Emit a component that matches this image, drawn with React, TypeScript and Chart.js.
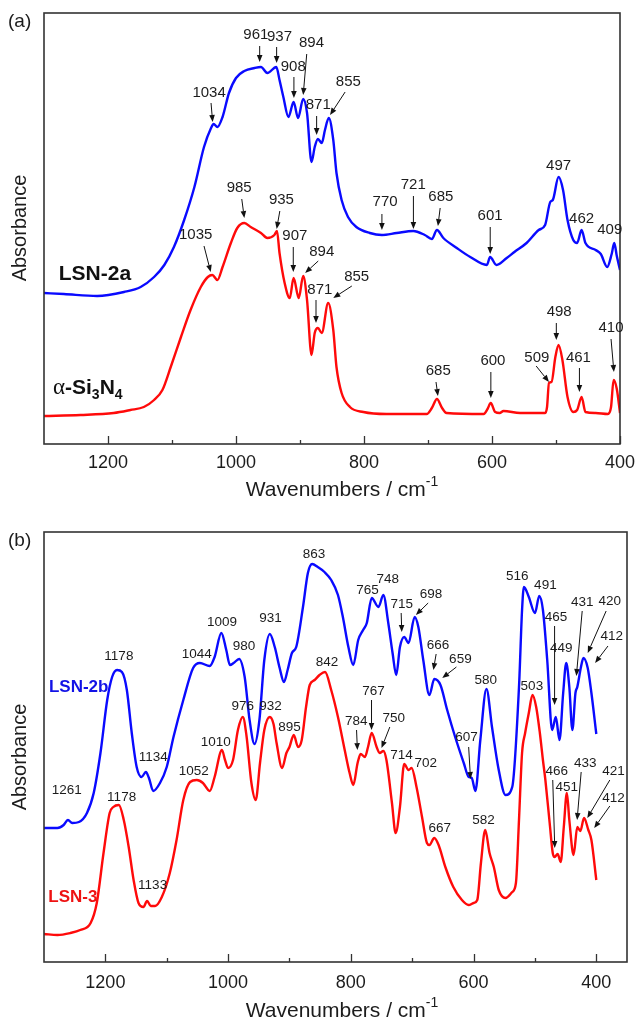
import React, { useEffect, useRef } from 'react';
import { Chart, registerables } from 'chart.js';

Chart.register(...registerables);

// ---------- Panel (a) data: wavenumber (cm-1) and absorbance (a.u.) ----------
const lsn2aWn = [1300, 1269, 1217, 1175, 1149, 1128, 1112, 1097, 1081, 1065, 1050, 1039, 1035, 1029, 1021, 1011, 1000, 987, 971, 961, 951, 937, 932, 926, 918, 910, 903, 895, 889, 882, 877, 872, 866, 861, 855, 848, 843, 835, 825, 812, 791, 772, 749, 723, 705, 694, 686, 676, 655, 634, 608, 603, 593, 577, 565, 546, 527, 517, 509, 505, 496, 489, 482, 473, 467, 460, 454, 438, 430, 420, 413, 409, 405, 400];
const lsn2aAbs = [151, 150, 148, 152, 157, 167, 179, 197, 224, 257, 297, 316, 320, 317, 327, 351, 366, 373, 376, 377, 371, 377, 364, 347, 327, 342, 326, 345, 331, 282, 297, 305, 301, 314, 326, 304, 271, 244, 227, 217, 211, 209, 211, 213, 209, 205, 214, 206, 196, 187, 179, 187, 179, 186, 192, 201, 214, 219, 242, 244, 267, 254, 224, 204, 201, 214, 201, 194, 190, 177, 190, 201, 188, 174];

const si3n4Wn = [1300, 1243, 1191, 1165, 1144, 1128, 1115, 1102, 1086, 1071, 1055, 1044, 1037, 1029, 1021, 1008, 998, 987, 977, 961, 951, 940, 936, 932, 924, 916, 910, 902, 895, 889, 882, 877, 872, 866, 856, 848, 843, 835, 822, 801, 765, 702, 694, 686, 678, 671, 613, 607, 602, 595, 588, 582, 556, 517, 514, 511, 507, 501, 496, 490, 482, 473, 467, 460, 454, 438, 419, 414, 410, 405, 400];
const si3n4Abs = [28, 29, 31, 34, 37, 44, 54, 77, 107, 134, 157, 167, 169, 164, 177, 201, 216, 221, 217, 211, 206, 209, 213, 191, 161, 146, 166, 146, 168, 144, 89, 111, 116, 111, 141, 114, 77, 51, 37, 32, 30, 30, 36, 45, 36, 31, 30, 35, 41, 32, 31, 33, 31, 31, 37, 61, 62, 87, 99, 84, 47, 32, 34, 47, 32, 31, 30, 37, 64, 55, 31];

// ---------- Panel (b) data ----------
const lsn2bWn = [1300, 1278, 1268, 1261, 1254, 1243, 1230, 1219, 1208, 1197, 1189, 1181, 1173, 1165, 1157, 1149, 1141, 1134, 1129, 1122, 1111, 1100, 1089, 1073, 1057, 1046, 1030, 1022, 1011, 1003, 997, 991, 982, 973, 965, 957, 949, 941, 932, 924, 916, 909, 903, 896, 889, 878, 870, 863, 854, 843, 832, 821, 813, 804, 796, 788, 780, 774, 766, 755, 747, 739, 732, 726, 720, 713, 706, 696, 690, 682, 672, 664, 654, 643, 630, 616, 608, 603, 597, 589, 579, 570, 559, 548, 537, 526, 521, 518, 510, 500, 493, 487, 480, 472, 466, 460, 454, 449, 444, 439, 434, 431, 425, 421, 414, 408, 400];
const lsn2bAbs = [134, 134, 137, 142, 139, 140, 149, 169, 209, 262, 285, 292, 290, 272, 229, 195, 185, 190, 184, 171, 179, 195, 225, 262, 294, 299, 296, 305, 329, 312, 297, 299, 303, 285, 242, 218, 242, 302, 328, 315, 294, 280, 292, 309, 315, 355, 389, 398, 395, 390, 382, 367, 345, 315, 297, 322, 332, 339, 364, 355, 367, 339, 309, 287, 315, 325, 319, 345, 335, 302, 267, 283, 277, 252, 225, 199, 185, 184, 171, 222, 273, 235, 192, 167, 175, 275, 352, 375, 365, 349, 366, 352, 302, 232, 245, 222, 269, 299, 275, 232, 269, 275, 295, 304, 294, 269, 228];

const lsn3Wn = [1300, 1278, 1257, 1241, 1224, 1214, 1203, 1193, 1187, 1178, 1170, 1162, 1154, 1146, 1138, 1132, 1126, 1119, 1108, 1095, 1084, 1073, 1062, 1051, 1041, 1030, 1022, 1010, 1005, 1000, 992, 984, 976, 970, 962, 955, 948, 941, 932, 926, 921, 912, 905, 900, 893, 886, 880, 873, 867, 859, 851, 842, 832, 821, 810, 802, 796, 789, 784, 777, 772, 766, 758, 753, 747, 742, 733, 727, 720, 713, 706, 701, 693, 684, 676, 672, 664, 657, 646, 633, 619, 608, 600, 594, 588, 581, 574, 567, 559, 548, 537, 531, 526, 521, 516, 510, 504, 498, 492, 487, 483, 476, 471, 468, 463, 458, 453, 448, 444, 437, 431, 426, 420, 413, 408, 400];
const lsn3Abs = [28, 27, 29, 32, 39, 59, 109, 149, 155, 157, 142, 115, 82, 59, 55, 61, 56, 56, 65, 89, 122, 162, 180, 182, 179, 171, 185, 212, 202, 194, 202, 232, 245, 226, 179, 162, 199, 232, 245, 238, 219, 194, 209, 215, 227, 215, 222, 255, 277, 282, 287, 290, 272, 245, 212, 189, 177, 199, 208, 205, 215, 229, 215, 209, 211, 202, 159, 129, 155, 198, 192, 194, 175, 145, 119, 117, 124, 117, 95, 75, 62, 57, 59, 62, 99, 132, 109, 95, 72, 64, 70, 79, 142, 209, 229, 249, 267, 255, 229, 202, 182, 139, 109, 105, 108, 100, 135, 169, 142, 107, 135, 131, 144, 132, 122, 82];

// ---------- Axis ticks ----------
const majorTicks = [1200, 1000, 800, 600, 400];
const minorTicks = [1100, 900, 700, 500];

// ---------- Peak labels: text at (x, y) in data units, optional arrow [x1, y1, x2, y2] ----------
const peaksA = [
  { t: '1034', x: 1042, y: 351, a: [1039, 341, 1036.5, 322] },
  { t: '961', x: 969, y: 409, a: [963, 398, 963, 382] },
  { t: '937', x: 932, y: 407, a: [936.5, 397, 936.5, 381] },
  { t: '908', x: 910.5, y: 377, a: [909.5, 367, 909.5, 346] },
  { t: '894', x: 882, y: 401, a: [889.5, 390, 895, 349] },
  { t: '871', x: 871.5, y: 339, a: [874, 328, 874, 309] },
  { t: '855', x: 824.5, y: 362, a: [829.5, 352, 853, 329] },
  { t: '770', x: 767, y: 242, a: [772, 230, 772, 214] },
  { t: '721', x: 723, y: 259, a: [722.8, 248, 722.8, 215] },
  { t: '685', x: 680, y: 247, a: [681, 236, 684.5, 218] },
  { t: '601', x: 603, y: 228, a: [602.8, 217, 602.8, 190] },
  { t: '497', x: 496, y: 278 },
  { t: '462', x: 460, y: 225 },
  { t: '409', x: 416, y: 214 },
  { t: '1035', x: 1063, y: 209, a: [1050, 198, 1039.5, 172] },
  { t: '985', x: 995, y: 256, a: [991, 245, 987, 226] },
  { t: '935', x: 929, y: 244, a: [931.5, 233, 936.5, 215] },
  { t: '907', x: 908, y: 208, a: [910.5, 197, 910.5, 172] },
  { t: '894', x: 866, y: 192, a: [871.5, 183, 892, 171] },
  { t: '871', x: 869, y: 154, a: [875, 144, 875, 121] },
  { t: '855', x: 811.5, y: 167, a: [819, 158, 848, 146] },
  { t: '685', x: 684, y: 73, a: [687.5, 62, 684.5, 48] },
  { t: '600', x: 598.6, y: 83, a: [601.8, 72, 601.8, 46] },
  { t: '509', x: 530, y: 86, a: [531, 78, 511, 62] },
  { t: '498', x: 495, y: 132, a: [499.5, 121, 499.5, 104] },
  { t: '461', x: 465, y: 86, a: [463.4, 76, 463.4, 52] },
  { t: '410', x: 414, y: 116, a: [414, 105, 409.5, 72] },
];

const peaksB = [
  { t: '1178', x: 1178, y: 306 },
  { t: '1261', x: 1263, y: 172 },
  { t: '1134', x: 1122, y: 205 },
  { t: '1044', x: 1051, y: 308 },
  { t: '1009', x: 1010, y: 340 },
  { t: '980', x: 974, y: 316 },
  { t: '931', x: 931, y: 344 },
  { t: '863', x: 860, y: 408 },
  { t: '765', x: 773, y: 372 },
  { t: '748', x: 740, y: 383 },
  { t: '715', x: 717, y: 358, a: [718, 349, 717, 330] },
  { t: '698', x: 669.5, y: 368, a: [674, 359, 694, 347] },
  { t: '666', x: 658, y: 317, a: [661, 308, 665.5, 292] },
  { t: '659', x: 621.5, y: 303, a: [628, 295, 651, 284] },
  { t: '607', x: 611.5, y: 225, a: [608, 215, 605, 183] },
  { t: '580', x: 580, y: 282 },
  { t: '516', x: 529, y: 386 },
  { t: '491', x: 483, y: 377 },
  { t: '465', x: 465.5, y: 345, a: [468, 336, 468, 257] },
  { t: '449', x: 457, y: 314 },
  { t: '431', x: 423, y: 360, a: [423, 351, 432.5, 286] },
  { t: '420', x: 378, y: 361, a: [384, 351, 414, 309] },
  { t: '412', x: 375, y: 326, a: [381, 316, 402, 299] },
  { t: '1178', x: 1173.5, y: 165 },
  { t: '1133', x: 1123, y: 77 },
  { t: '1052', x: 1056, y: 191 },
  { t: '1010', x: 1020, y: 220 },
  { t: '976', x: 976, y: 256 },
  { t: '932', x: 931, y: 256 },
  { t: '895', x: 900, y: 235 },
  { t: '842', x: 839, y: 300 },
  { t: '784', x: 791, y: 241, a: [790.7, 232, 789.3, 212] },
  { t: '767', x: 763, y: 271, a: [766.3, 262, 766.3, 232] },
  { t: '750', x: 730, y: 244, a: [736.5, 235, 750, 214] },
  { t: '714', x: 717.5, y: 207 },
  { t: '702', x: 678, y: 199 },
  { t: '667', x: 655, y: 134 },
  { t: '582', x: 584, y: 142 },
  { t: '503', x: 505, y: 276 },
  { t: '466', x: 464.5, y: 191, a: [471, 182, 467.7, 114] },
  { t: '451', x: 448, y: 175 },
  { t: '433', x: 418, y: 199, a: [424.7, 190, 431.3, 142] },
  { t: '421', x: 372, y: 191, a: [378, 182, 414.7, 144] },
  { t: '412', x: 372, y: 164, a: [378, 156, 403.4, 134] },
];

const BLUE = '#0a0aff';
const RED = '#ff0a0a';
const INK = '#1c1c1c';
const SANS = '"Liberation Sans", Arial, sans-serif';
const SERIF = '"Liberation Serif", "DejaVu Serif", serif';

type Seg = { t: string; font: string; dy?: number };

function drawRich(ctx: CanvasRenderingContext2D, x: number, y: number, segs: Seg[], color: string) {
  ctx.fillStyle = color;
  ctx.textAlign = 'left';
  ctx.textBaseline = 'middle';
  let cx = x;
  for (const s of segs) {
    ctx.font = s.font;
    ctx.fillText(s.t, cx, y + (s.dy || 0));
    cx += ctx.measureText(s.t).width;
  }
}

function drawArrow(ctx: CanvasRenderingContext2D, x1: number, y1: number, x2: number, y2: number) {
  const ang = Math.atan2(y2 - y1, x2 - x1);
  const hl = 7;
  const hw = 2.8;
  const bx = x2 - hl * Math.cos(ang);
  const by = y2 - hl * Math.sin(ang);
  ctx.beginPath();
  ctx.moveTo(x1, y1);
  ctx.lineTo(bx, by);
  ctx.stroke();
  ctx.beginPath();
  ctx.moveTo(x2, y2);
  ctx.lineTo(bx + hw * Math.sin(ang), by - hw * Math.cos(ang));
  ctx.lineTo(bx - hw * Math.sin(ang), by + hw * Math.cos(ang));
  ctx.closePath();
  ctx.fill();
}

type SeriesLabel = { x: number; y: number; segs: Seg[]; color: string };

type PanelCfg = {
  id: string;
  letter: string;
  xMin: number;
  xMax: number;
  yMax: number;
  height: number;
  padding: { left: number; right: number; top: number; bottom: number };
  series: { wn: number[]; abs: number[]; color: string }[];
  peaks: { t: string; x: number; y: number; a?: number[] }[];
  peakFont: string;
  seriesLabels: SeriesLabel[];
  tickLabelGap: number;
  titleY: number;
  yTitleY: number;
};

function makeOverlay(cfg: PanelCfg) {
  return {
    id: 'overlay_' + cfg.id,
    afterDatasetsDraw(chart: any) {
      const { ctx, chartArea: ca, scales } = chart;
      const xs = scales.x;
      const ys = scales.y;
      ctx.save();
      // frame
      ctx.strokeStyle = '#333';
      ctx.lineWidth = 1.6;
      ctx.strokeRect(ca.left, ca.top, ca.right - ca.left, ca.bottom - ca.top);
      // ticks (inward)
      ctx.lineWidth = 1.3;
      const tick = (v: number, len: number) => {
        const px = Math.round(xs.getPixelForValue(v)) + 0.5;
        ctx.beginPath();
        ctx.moveTo(px, ca.bottom);
        ctx.lineTo(px, ca.bottom - len);
        ctx.stroke();
      };
      majorTicks.forEach((t) => tick(t, 8));
      minorTicks.forEach((t) => tick(t, 4));
      // tick labels
      ctx.fillStyle = INK;
      ctx.font = '18px ' + SANS;
      ctx.textAlign = 'center';
      ctx.textBaseline = 'middle';
      majorTicks.forEach((t) => {
        ctx.fillText(String(t), xs.getPixelForValue(t), ca.bottom + cfg.tickLabelGap);
      });
      // x title
      const main = 'Wavenumbers / cm';
      ctx.font = '21px ' + SANS;
      const w1 = ctx.measureText(main).width;
      ctx.font = '14px ' + SANS;
      const w2 = ctx.measureText('-1').width;
      const startX = 342 - (w1 + w2) / 2;
      drawRich(ctx, startX, cfg.titleY, [
        { t: main, font: '21px ' + SANS },
        { t: '-1', font: '14px ' + SANS, dy: -8 },
      ], INK);
      // y title
      ctx.save();
      ctx.translate(20, cfg.yTitleY);
      ctx.rotate(-Math.PI / 2);
      ctx.font = '20px ' + SANS;
      ctx.textAlign = 'center';
      ctx.textBaseline = 'middle';
      ctx.fillStyle = INK;
      ctx.fillText('Absorbance', 0, 0);
      ctx.restore();
      // panel letter
      ctx.font = '19px ' + SANS;
      ctx.textAlign = 'left';
      ctx.textBaseline = 'top';
      ctx.fillStyle = INK;
      ctx.fillText(cfg.letter, 8, ca.top - 1);
      // series labels
      cfg.seriesLabels.forEach((s) => {
        drawRich(ctx, xs.getPixelForValue(s.x), ys.getPixelForValue(s.y), s.segs, s.color);
      });
      // peak labels and arrows
      ctx.strokeStyle = '#111';
      ctx.lineWidth = 1;
      cfg.peaks.forEach((p) => {
        ctx.font = cfg.peakFont;
        ctx.textAlign = 'center';
        ctx.textBaseline = 'middle';
        ctx.fillStyle = INK;
        ctx.fillText(p.t, xs.getPixelForValue(p.x), ys.getPixelForValue(p.y));
        if (p.a) {
          ctx.fillStyle = '#111';
          drawArrow(
            ctx,
            xs.getPixelForValue(p.a[0]),
            ys.getPixelForValue(p.a[1]),
            xs.getPixelForValue(p.a[2]),
            ys.getPixelForValue(p.a[3])
          );
        }
      });
      ctx.restore();
    },
  };
}

function Panel({ cfg, top }: { cfg: PanelCfg; top: number }) {
  const ref = useRef<HTMLCanvasElement | null>(null);
  useEffect(() => {
    if (!ref.current) return;
    const chart = new Chart(ref.current, {
      type: 'line',
      data: {
        datasets: cfg.series.map((s) => ({
          data: s.wn.map((w, i) => ({ x: w, y: s.abs[i] })),
          borderColor: s.color,
          backgroundColor: s.color,
          borderWidth: 2.4,
          pointRadius: 0,
          tension: 0.4,
          cubicInterpolationMode: 'monotone' as const,
          fill: false,
        })),
      },
      options: {
        animation: false,
        responsive: false,
        devicePixelRatio: 1,
        layout: { padding: cfg.padding },
        plugins: { legend: { display: false }, tooltip: { enabled: false } },
        scales: {
          x: { type: 'linear', reverse: true, min: cfg.xMin, max: cfg.xMax, display: false },
          y: { type: 'linear', min: 0, max: cfg.yMax, display: false },
        },
      },
      plugins: [makeOverlay(cfg)],
    });
    return () => chart.destroy();
  }, [cfg]);
  return (
    <canvas
      ref={ref}
      width={635}
      height={cfg.height}
      style={{ position: 'absolute', left: 0, top, width: 635, height: cfg.height }}
    />
  );
}

const boldA = 'bold 21px ' + SANS;
const subA = 'bold 14px ' + SANS;

const panelA: PanelCfg = {
  id: 'a',
  letter: '(a)',
  xMin: 400,
  xMax: 1300,
  yMax: 431,
  height: 505,
  padding: { left: 44, right: 15, top: 13, bottom: 61 },
  series: [
    { wn: lsn2aWn, abs: lsn2aAbs, color: BLUE },
    { wn: si3n4Wn, abs: si3n4Abs, color: RED },
  ],
  peaks: peaksA,
  peakFont: '15px ' + SANS,
  seriesLabels: [
    { x: 1277, y: 170, color: '#111', segs: [{ t: 'LSN-2a', font: boldA }] },
    {
      x: 1286,
      y: 56,
      color: '#111',
      segs: [
        { t: 'α', font: '23px ' + SERIF },
        { t: '-Si', font: boldA },
        { t: '3', font: subA, dy: 7 },
        { t: 'N', font: boldA },
        { t: '4', font: subA, dy: 7 },
      ],
    },
  ],
  tickLabelGap: 19,
  titleY: 490,
  yTitleY: 228,
};

const panelB: PanelCfg = {
  id: 'b',
  letter: '(b)',
  xMin: 350,
  xMax: 1300,
  yMax: 430,
  height: 516,
  padding: { left: 44, right: 8, top: 27, bottom: 59 },
  series: [
    { wn: lsn2bWn, abs: lsn2bAbs, color: BLUE },
    { wn: lsn3Wn, abs: lsn3Abs, color: RED },
  ],
  peaks: peaksB,
  peakFont: '13.5px ' + SANS,
  seriesLabels: [
    { x: 1292, y: 275, color: '#1212e6', segs: [{ t: 'LSN-2b', font: 'bold 17px ' + SANS }] },
    { x: 1293, y: 65, color: '#ee1212', segs: [{ t: 'LSN-3', font: 'bold 17px ' + SANS }] },
  ],
  tickLabelGap: 21,
  titleY: 506,
  yTitleY: 252,
};

export default function App() {
  return (
    <div style={{ position: 'absolute', left: 0, top: 0, width: 635, height: 1021, background: '#fff' }}>
      <Panel cfg={panelA} top={0} />
      <Panel cfg={panelB} top={505} />
    </div>
  );
}
